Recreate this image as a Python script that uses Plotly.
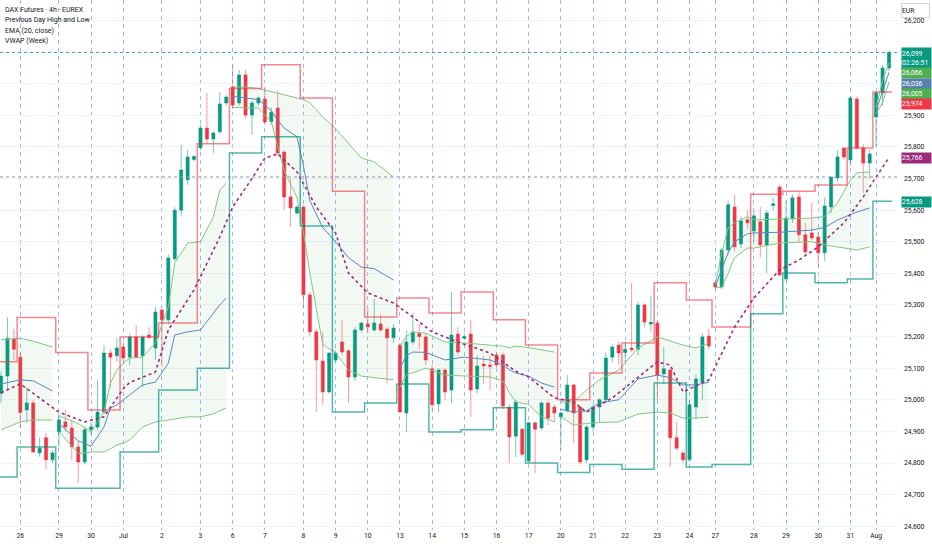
import numpy as np
import plotly.graph_objects as go

# 4h candles (left to right)
opens = [25020, 25075, 25192, 25135, 24968, 24990, 24832, 24880, 24810,
         24898, 24930, 24911, 24851, 24803,
         24905, 24914, 24961, 25148, 25139,
         25167, 25135, 25199, 25139, 25205, 25164,
         25284, 25253, 25446, 25600, 25696, 25760,
         25797, 25860, 25825, 25848, 25939,
         25990, 25939, 26028, 25901, 25939,
         25952, 25880, 25923, 25784, 25642, 25591,
         25610, 25332, 25215, 25123, 25025,
         25126, 25183, 25155, 25072, 25221,
         25240, 25221, 25240, 25224, 25196,
         25173, 24958, 25183, 25210, 25199,
         25098, 24987, 25094, 25031, 25208,
         25195, 25208, 25034, 25113, 25110,
         25142, 25142, 24977, 24885, 24907,
         24806, 24927, 24911, 24990, 24977,
         24946, 24965, 25047, 24977, 24810,
         24914, 24977, 25000, 25135, 25173,
         25150, 25164, 25160, 25300, 25240,
         25243, 25082, 25094, 24880, 24832,
         24810, 24977, 25056, 25202,
         25370, 25357, 25474, 25610, 25493, 25570,
         25534, 25563, 25490, 25615, 25673,
         25382, 25572, 25642, 25522, 25528,
         25515, 25465, 25610, 25702, 25797,
         25759, 25952, 25797, 25749,
         25895, 25971, 26050]
highs = [25090, 25260, 25225, 25150, 25040, 25000, 24880, 24895, 24840,
         24958, 24968, 24935, 24870, 24915,
         24930, 25063, 25173, 25160, 25196,
         25185, 25210, 25237, 25205, 25230, 25294,
         25290, 25460, 25610, 25806, 25790, 25775,
         25870, 25971, 25850, 25974, 25965,
         26060, 26044, 26044, 25945, 25960,
         25990, 25925, 25980, 25790, 25700, 25615,
         25615, 25340, 25225, 25215, 25150,
         25155, 25253, 25160, 25230, 25245,
         25290, 25319, 25270, 25230, 25240,
         25180, 25220, 25275, 25240, 25210,
         25110, 25100, 25100, 25341, 25230,
         25210, 25253, 25140, 25140, 25140,
         25150, 25150, 24985, 25000, 24910,
         24930, 24930, 24995, 24995, 24985,
         24960, 25078, 25050, 24980, 24920,
         24985, 25005, 25150, 25175, 25185,
         25185, 25370, 25310, 25305, 25330,
         25250, 25167, 25100, 24930, 24840,
         25000, 25080, 25210, 25225,
         25380, 25480, 25630, 25648, 25580, 25600,
         25600, 25610, 25600, 25640, 25680,
         25630, 25650, 25660, 25560, 25625,
         25530, 25640, 25705, 25790, 25800,
         25960, 25960, 25810, 25790,
         25975, 26060, 26105]
lows = [24990, 25030, 25125, 24910, 24927, 24830, 24820, 24778, 24800,
        24850, 24900, 24810, 24737, 24795,
        24890, 24905, 24955, 25040, 25120,
        25120, 25110, 25130, 25040, 25190, 25126,
        25104, 25240, 25440, 25580, 25680, 25755,
        25790, 25810, 25781, 25840, 25930,
        25920, 25930, 25890, 25838, 25930,
        25870, 25870, 25770, 25601, 25547, 25585,
        25290, 25200, 24961, 24984, 25020,
        25120, 25140, 24990, 25060, 25215,
        25210, 25215, 25215, 25053, 25180,
        24960, 24898, 25175, 25160, 25110,
        24960, 24960, 25000, 24990, 25140,
        25190, 24946, 25020, 25050, 25030,
        25100, 24970, 24800, 24819, 24820,
        24800, 24768, 24905, 24920, 24930,
        24841, 24960, 24863, 24795, 24800,
        24900, 24930, 24990, 25120, 25110,
        25120, 25150, 25140, 25230, 25215,
        24999, 25050, 24787, 24840, 24800,
        24805, 24940, 25000, 25160,
        25350, 25350, 25460, 25470, 25480, 25540,
        25500, 25450, 25401, 25600, 25390,
        25375, 25560, 25500, 25460, 25505,
        25420, 25440, 25590, 25690, 25760,
        25740, 25790, 25655, 25700,
        25800, 25930, 26040]
closes = [25075, 25195, 25160, 24960, 24990, 24835, 24847, 24810, 24832,
          24936, 24914, 24851, 24803, 24905,
          24914, 24961, 25148, 25135, 25164,
          25132, 25199, 25135, 25199, 25198, 25278,
          25253, 25449, 25600, 25727, 25768, 25770,
          25860, 25825, 25844, 25936, 25958,
          25933, 26028, 25901, 25939, 25955,
          25879, 25910, 25781, 25642, 25607, 25610,
          25332, 25215, 25126, 25025, 25148,
          25148, 25151, 25072, 25221, 25243,
          25230, 25243, 25221, 25196, 25227,
          24961, 25183, 25214, 25200, 25126,
          24984, 25094, 25025, 25205, 25151,
          25200, 25031, 25107, 25107, 25105,
          25110, 24980, 24882, 24993, 24828,
          24927, 24907, 24990, 24942, 24958,
          24958, 25047, 24958, 24803, 24914,
          24977, 25000, 25132, 25167, 25148,
          25160, 25158, 25300, 25246, 25245,
          25078, 25098, 24880, 24847, 24810,
          24984, 25066, 25199, 25170,
          25357, 25474, 25617, 25484, 25566, 25560,
          25582, 25490, 25591, 25620, 25395,
          25575, 25639, 25522, 25468, 25512,
          25465, 25613, 25705, 25768, 25768,
          25955, 25797, 25749, 25778,
          25971, 26050, 26099]

# sessions: label under the first bar of each day
day_labels = ["", "26", "29", "30", "Jul", "2", "3", "6", "7", "8", "9", "10", "13", "14",
              "15", "16", "17", "20", "21", "22", "23", "24", "27", "28", "29", "30", "31", "Aug"]
bars_per_day = [3, 6, 5, 5, 6, 6, 5, 5, 6, 5, 5, 5, 5, 5, 5, 5, 5, 5, 5, 5, 5, 4, 6, 5, 5, 5, 4, 3]

# price scale
price_ticks = list(range(24600, 26300, 100))
covered_ticks = [26000, 26100]   # hidden behind the price tags on the scale

# Previous Day High and Low (one value per session)
prev_day_high = [25120, 25260, 25150, 24968, 25199, 25243, 25810, 25985, 26060, 25955, 25660, 25262,
                 25322, 25275, 25341, 25253, 25173, 25000, 25085, 25180, 25370, 25316, 25230,
                 25650, 25660, 25680, 25797, 25974]
prev_day_low = [24756, 24851, 24720, 24720, 24835, 25031, 25100, 25781, 25832, 25550, 24961, 24990,
                25050, 24898, 24905, 24975, 24800, 24770, 24795, 24780, 25053, 24787, 24795,
                25272, 25401, 25370, 25382, 25628]

# EMA (20, close), read at bar positions
ema_idx = [0, 3, 9, 13, 16, 19, 20, 24, 26, 30, 34, 36, 39, 41, 43, 46, 49, 52, 54, 57, 61, 64, 67,
           71, 76, 80, 82, 86, 89, 91, 95, 99, 102, 104, 106, 110, 111, 114, 117, 121, 124, 127,
           131, 134, 136, 138]
ema_val = [25022, 25050, 24961, 24930, 24946, 25035, 25055, 25088, 25221, 25348, 25515, 25610, 25700,
           25765, 25778, 25721, 25610, 25528, 25401, 25338, 25306, 25262, 25215, 25183, 25148, 25090,
           25072, 25006, 24993, 24961, 25006, 25070, 25120, 25110, 25025, 25063, 25104, 25230, 25322,
           25411, 25442, 25484, 25560, 25642, 25705, 25766]

# VWAP (Week) with bands, read at bar positions
vwap_idx = [0, 3, 5, 8,
            9, 12, 14, 16, 17, 18, 19, 20, 22, 24, 26, 27, 29, 31, 33, 34, 35,
            36, 38, 40, 42, 43, 44, 46, 47, 48, 50, 52, 54, 56, 58, 61,
            62, 63, 64, 66, 69, 72, 76, 78, 79, 80, 82, 84, 86,
            87, 89, 91, 93, 96, 99, 102, 104, 106, 108, 110,
            111, 112, 113, 114, 116, 117, 121, 126, 128, 130, 132, 133, 135,
            136, 137, 138]
vwap_upper = [25190, 25195, 25185, 25167,
              24950, 24925, 24898, 24961, 25053, 25094, 25116, 25132, 25135, 25180, 25294, 25433,
              25496, 25500, 25579, 25664, 25686,
              25990, 25990, 25985, 25975, 25972, 25965, 25955, 25950, 25940, 25895, 25858, 25810,
              25765, 25753, 25705,
              25170, 25200, 25215, 25211, 25183, 25180, 25173, 25170, 25165, 25170, 25165, 25158, 25151,
              24993, 24993, 25031, 25063, 25094, 25164, 25199, 25185, 25173, 25164, 25180,
              25365, 25465, 25544, 25560, 25580, 25569, 25572, 25575, 25580, 25623, 25696, 25718, 25721,
              25925, 26010, 26066]
vwap_mid = [25050, 25063, 25060, 25028,
            24925, 24870, 24853, 24914, 24974, 24984, 25000, 25015, 25047, 25056, 25116, 25205,
            25215, 25221, 25275, 25300, 25322,
            25960, 25955, 25950, 25915, 25885, 25860, 25832, 25740, 25630, 25545, 25500, 25450,
            25420, 25415, 25379,
            25100, 25140, 25151, 25150, 25126, 25135, 25126, 25110, 25095, 25085, 25075, 25053, 25040,
            24970, 24961, 24965, 24990, 25000, 25066, 25078, 25070, 25047, 25047, 25056,
            25360, 25410, 25465, 25500, 25525, 25528, 25530, 25537, 25545, 25569, 25585, 25594, 25607,
            25915, 25975, 26036]
vwap_lower = [24905, 24930, 24936, 24936,
              24900, 24830, 24835, 24835, 24845, 24857, 24863, 24873, 24914, 24930, 24936, 24940,
              24946, 24946, 24955, 24965, 24974,
              25925, 25925, 25923, 25880, 25800, 25725, 25640, 25530, 25400, 25175, 25148, 25094,
              25075, 25070, 25063,
              25040, 25080, 25085, 25100, 25078, 25075, 25072, 25060, 25022, 24993, 24985, 24946, 24930,
              24946, 24920, 24925, 24928, 24930, 24955, 24961, 24958, 24942, 24942, 24945,
              25355, 25355, 25400, 25450, 25480, 25480, 25496, 25500, 25490, 25484, 25476, 25474, 25484,
              25905, 25940, 26005]
vwap_reset_days = [2, 7, 12, 17, 22, 27]   # sessions where the anchor restarts

prev_close_level = 25705
countdown = "02:26:51"

UP = "#089981"
DOWN = "#f23645"
BAND = "#81c784"
VWAP_COLOR = "#5b87c5"
EMA_COLOR = "#a3287e"
TEXT = "#131722"
SMALL = 6.8   # the screenshot is a half-scale capture, so all text is tiny


def build_figure():
    n = len(closes)
    x = np.arange(n)
    starts = np.r_[0, np.cumsum(bars_per_day)[:-1]]

    fig = go.Figure()

    # VWAP bands, one segment per anchor period
    vi = np.array(vwap_idx)
    up = np.array(vwap_upper)
    mid = np.array(vwap_mid)
    lo = np.array(vwap_lower)
    cuts = [0] + [int(starts[d]) for d in vwap_reset_days] + [n]
    for a, b in zip(cuts[:-1], cuts[1:]):
        m = (vi >= a) & (vi < b)
        fig.add_trace(go.Scatter(x=vi[m], y=up[m], mode="lines",
                                 line=dict(color=BAND, width=1), hoverinfo="skip"))
        fig.add_trace(go.Scatter(x=vi[m], y=lo[m], mode="lines", fill="tonexty",
                                 fillcolor="rgba(76,175,80,0.07)",
                                 line=dict(color=BAND, width=1), hoverinfo="skip"))
        fig.add_trace(go.Scatter(x=vi[m], y=mid[m], mode="lines",
                                 line=dict(color=VWAP_COLOR, width=1), hoverinfo="skip"))

    # previous day high / low as step lines
    step_x = list(starts - 0.5) + [n - 0.5]
    fig.add_trace(go.Scatter(x=step_x, y=prev_day_high + [prev_day_high[-1]], mode="lines",
                             line=dict(color="rgba(242,54,69,0.6)", width=1.5, shape="hv")))
    fig.add_trace(go.Scatter(x=step_x, y=prev_day_low + [prev_day_low[-1]], mode="lines",
                             line=dict(color="rgba(8,153,129,0.7)", width=1.5, shape="hv")))

    # EMA
    fig.add_trace(go.Scatter(x=ema_idx, y=ema_val, mode="lines",
                             line=dict(color=EMA_COLOR, width=1.6, dash="dot")))

    fig.add_trace(go.Candlestick(
        x=x, open=opens, high=highs, low=lows, close=closes,
        increasing=dict(line=dict(color="rgba(8,153,129,0.55)", width=1), fillcolor=UP),
        decreasing=dict(line=dict(color="rgba(242,54,69,0.5)", width=1), fillcolor=DOWN),
        whiskerwidth=0,
    ))

    # horizontal dotted reference lines
    fig.add_shape(type="line", xref="paper", x0=0, x1=1, y0=closes[-1], y1=closes[-1],
                  line=dict(color="rgba(8,153,129,0.8)", width=1, dash="dot"))
    fig.add_shape(type="line", xref="paper", x0=0, x1=1, y0=prev_close_level, y1=prev_close_level,
                  line=dict(color="#9598a1", width=1, dash="dot"))

    # study titles
    titles = ["DAX Futures · 4h · EUREX", "Previous Day High and Low", "EMA (20, close)", "VWAP (Week)"]
    for i, t in enumerate(titles):
        fig.add_annotation(text=t, xref="paper", yref="paper", x=0, y=1, xanchor="left",
                           yanchor="middle", xshift=3, yshift=-9.5 - i * 10.6, showarrow=False,
                           font=dict(size=SMALL + 0.2, color=TEXT))

    # price tags on the scale (stacked like the platform does)
    tags = [
        ("%s<br>%s" % (f"{closes[-1]:,}", countdown), UP, -6, 21),
        (f"{vwap_upper[-1]:,}", "#4caf50", -10.5, 10),
        (f"{vwap_mid[-1]:,}", "#5a7fae", -11.5, 10),
        (f"{vwap_lower[-1]:,}", "#4caf50", -12, 10),
        (f"{prev_day_high[-1]:,}", DOWN, -12, 10),
        (f"{ema_val[-1]:,}", "#9c2a7c", 0, 10),
        (f"{prev_day_low[-1]:,}", UP, -1, 10),
    ]
    tag_prices = [closes[-1], vwap_upper[-1], vwap_mid[-1], vwap_lower[-1],
                  prev_day_high[-1], ema_val[-1], prev_day_low[-1]]
    for (txt, col, ys, h), p in zip(tags, tag_prices):
        fig.add_annotation(text=txt, xref="paper", yref="y", x=1, y=p, xanchor="left",
                           yanchor="middle", xshift=3, yshift=ys, showarrow=False,
                           bgcolor=col, borderpad=0, width=29, height=h, align="left",
                           font=dict(size=SMALL, color="white"))

    fig.add_annotation(text="EUR", xref="paper", yref="paper", x=1, y=1, xanchor="left",
                       yanchor="top", xshift=3, yshift=-3, showarrow=False, bgcolor="white",
                       bordercolor="#d1d4dc", borderwidth=1, borderpad=0, width=27, height=13,
                       align="left", font=dict(size=SMALL, color=TEXT))

    tick_text = ["" if v in covered_ticks else f"{v:,}" for v in price_ticks]

    fig.update_layout(
        width=932, height=550,
        margin=dict(l=0, r=34, t=0, b=20),
        paper_bgcolor="white", plot_bgcolor="white",
        showlegend=False,
        font=dict(family="Roboto, Arial, sans-serif", size=SMALL, color=TEXT),
        xaxis=dict(
            range=[-0.16, 139.4],
            tickvals=starts[1:], ticktext=day_labels[1:],
            showgrid=True, gridcolor="rgba(41,98,255,0.45)", griddash="4px,4px", gridwidth=1,
            zeroline=False, showline=False, ticks="",
            rangeslider=dict(visible=False),
            tickfont=dict(size=SMALL, color=TEXT),
        ),
        yaxis=dict(
            side="right", range=[24588, 26265],
            tickvals=price_ticks, ticktext=tick_text,
            showgrid=True, gridcolor="#f0f3fa", zeroline=False, showline=False, ticks="",
            ticklabelstandoff=5,
            tickfont=dict(size=SMALL, color=TEXT),
        ),
    )
    return fig


fig = build_figure()
fig.write_html("out.html", config={"displayModeBar": False},
               post_script="document.body.style.margin='0';")
